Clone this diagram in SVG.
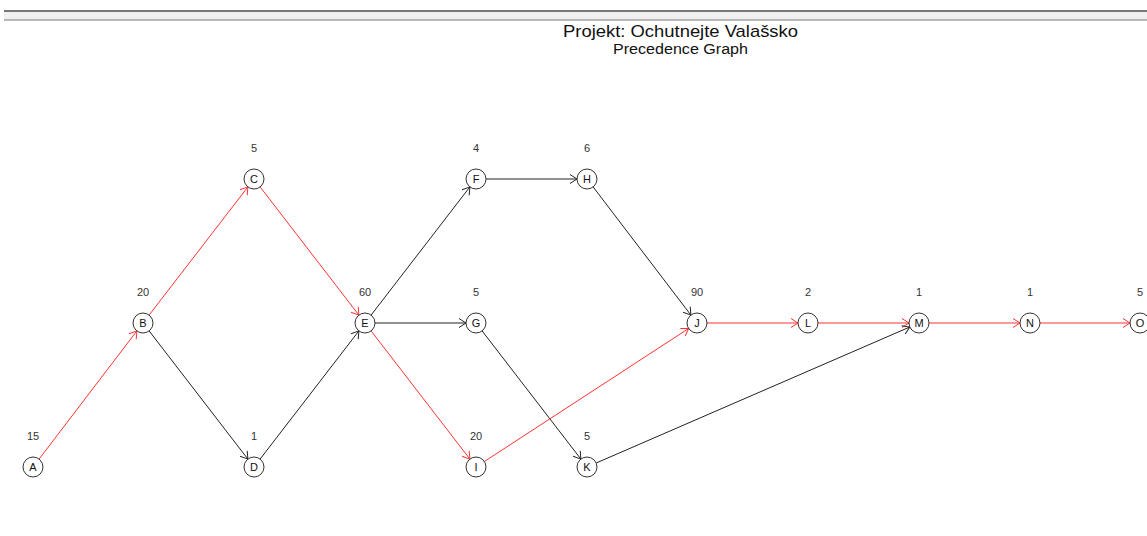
<svg xmlns="http://www.w3.org/2000/svg" width="1147" height="536" viewBox="0 0 1147 536">
  <style>
    .node circle { fill: #ffffff; stroke: #333333; stroke-width: 1; }
    .node .id { font-family: "Liberation Sans", Arial, sans-serif; font-size: 11px; fill: #111111; text-anchor: middle; }
    .node .dur { font-family: "Liberation Sans", Arial, sans-serif; font-size: 11px; fill: #333333; text-anchor: middle; }
    .edge { fill: none; stroke-width: 1; }
    .crit { stroke: #ff3333; marker-end: url(#arrowRed); }
    .norm { stroke: #222222; marker-end: url(#arrowBlack); }
    .title { font-family: "Liberation Sans", Arial, sans-serif; fill: #111111; text-anchor: middle; }
  </style>
  <defs>
    <marker id="arrowRed" viewBox="-10 -6 12 12" markerWidth="12" markerHeight="12" refX="0" refY="0" orient="auto" markerUnits="userSpaceOnUse">
      <path d="M-7,-4.5 L0,0 L-7,4.5" fill="none" stroke="#ff3333" stroke-width="1"/>
    </marker>
    <marker id="arrowBlack" viewBox="-10 -6 12 12" markerWidth="12" markerHeight="12" refX="0" refY="0" orient="auto" markerUnits="userSpaceOnUse">
      <path d="M-7,-4.5 L0,0 L-7,4.5" fill="none" stroke="#222222" stroke-width="1"/>
    </marker>
  </defs>

  <rect width="1147" height="536" fill="#ffffff"/>

  <!-- window header bar -->
  <rect x="4" y="11" width="1143" height="9" fill="#f0f0f0"/>
  <line x1="4" y1="11" x2="1147" y2="11" stroke="#777777" stroke-width="2"/>
  <line x1="4" y1="20" x2="1147" y2="20" stroke="#777777" stroke-width="1"/>

  <text class="title" x="680.5" y="37" font-size="17" textLength="235" lengthAdjust="spacingAndGlyphs">Projekt: Ochutnejte Valašsko</text>
  <text class="title" x="680.5" y="54" font-size="14" textLength="135" lengthAdjust="spacingAndGlyphs">Precedence Graph</text>

  <g id="connectors">
    <line class="edge crit" x1="39.1" y1="459.1" x2="136.9" y2="330.9"/>
    <line class="edge crit" x1="149.1" y1="315.1" x2="247.9" y2="186.9"/>
    <line class="edge crit" x1="260.1" y1="186.9" x2="358.9" y2="315.1"/>
    <line class="edge norm" x1="149.1" y1="330.9" x2="247.9" y2="459.1"/>
    <line class="edge norm" x1="260.1" y1="459.1" x2="358.9" y2="330.9"/>
    <line class="edge norm" x1="371.1" y1="315.1" x2="469.9" y2="186.9"/>
    <line class="edge norm" x1="375" y1="323" x2="466" y2="323"/>
    <line class="edge crit" x1="371.1" y1="330.9" x2="469.9" y2="459.1"/>
    <line class="edge norm" x1="486" y1="179" x2="577" y2="179"/>
    <line class="edge norm" x1="593.1" y1="186.9" x2="690.9" y2="315.1"/>
    <line class="edge norm" x1="482.1" y1="330.9" x2="580.9" y2="459.1"/>
    <line class="edge crit" x1="484.4" y1="461.5" x2="688.6" y2="328.5"/>
    <line class="edge crit" x1="707" y1="323" x2="798" y2="323"/>
    <line class="edge crit" x1="818" y1="323" x2="909" y2="323"/>
    <line class="edge crit" x1="929" y1="323" x2="1020" y2="323"/>
    <line class="edge crit" x1="1040" y1="323" x2="1130" y2="323"/>
    <line class="edge norm" x1="596.2" y1="463" x2="909.8" y2="327"/>
  </g>

  <g id="node-A" class="node"><text class="dur" x="33" y="440">15</text><circle cx="33" cy="467" r="10"/><text class="id" x="33" y="471">A</text></g>
  <g id="node-B" class="node"><text class="dur" x="143" y="296">20</text><circle cx="143" cy="323" r="10"/><text class="id" x="143" y="327">B</text></g>
  <g id="node-C" class="node"><text class="dur" x="254" y="152">5</text><circle cx="254" cy="179" r="10"/><text class="id" x="254" y="183">C</text></g>
  <g id="node-D" class="node"><text class="dur" x="254" y="440">1</text><circle cx="254" cy="467" r="10"/><text class="id" x="254" y="471">D</text></g>
  <g id="node-E" class="node"><text class="dur" x="365" y="296">60</text><circle cx="365" cy="323" r="10"/><text class="id" x="365" y="327">E</text></g>
  <g id="node-F" class="node"><text class="dur" x="476" y="152">4</text><circle cx="476" cy="179" r="10"/><text class="id" x="476" y="183">F</text></g>
  <g id="node-G" class="node"><text class="dur" x="476" y="296">5</text><circle cx="476" cy="323" r="10"/><text class="id" x="476" y="327">G</text></g>
  <g id="node-H" class="node"><text class="dur" x="587" y="152">6</text><circle cx="587" cy="179" r="10"/><text class="id" x="587" y="183">H</text></g>
  <g id="node-I" class="node"><text class="dur" x="476" y="440">20</text><circle cx="476" cy="467" r="10"/><text class="id" x="476" y="471">I</text></g>
  <g id="node-J" class="node"><text class="dur" x="697" y="296">90</text><circle cx="697" cy="323" r="10"/><text class="id" x="697" y="327">J</text></g>
  <g id="node-K" class="node"><text class="dur" x="587" y="440">5</text><circle cx="587" cy="467" r="10"/><text class="id" x="587" y="471">K</text></g>
  <g id="node-L" class="node"><text class="dur" x="808" y="296">2</text><circle cx="808" cy="323" r="10"/><text class="id" x="808" y="327">L</text></g>
  <g id="node-M" class="node"><text class="dur" x="919" y="296">1</text><circle cx="919" cy="323" r="10"/><text class="id" x="919" y="327">M</text></g>
  <g id="node-N" class="node"><text class="dur" x="1030" y="296">1</text><circle cx="1030" cy="323" r="10"/><text class="id" x="1030" y="327">N</text></g>
  <g id="node-O" class="node"><text class="dur" x="1140" y="296">5</text><circle cx="1140" cy="323" r="10"/><text class="id" x="1140" y="327">O</text></g>
</svg>
